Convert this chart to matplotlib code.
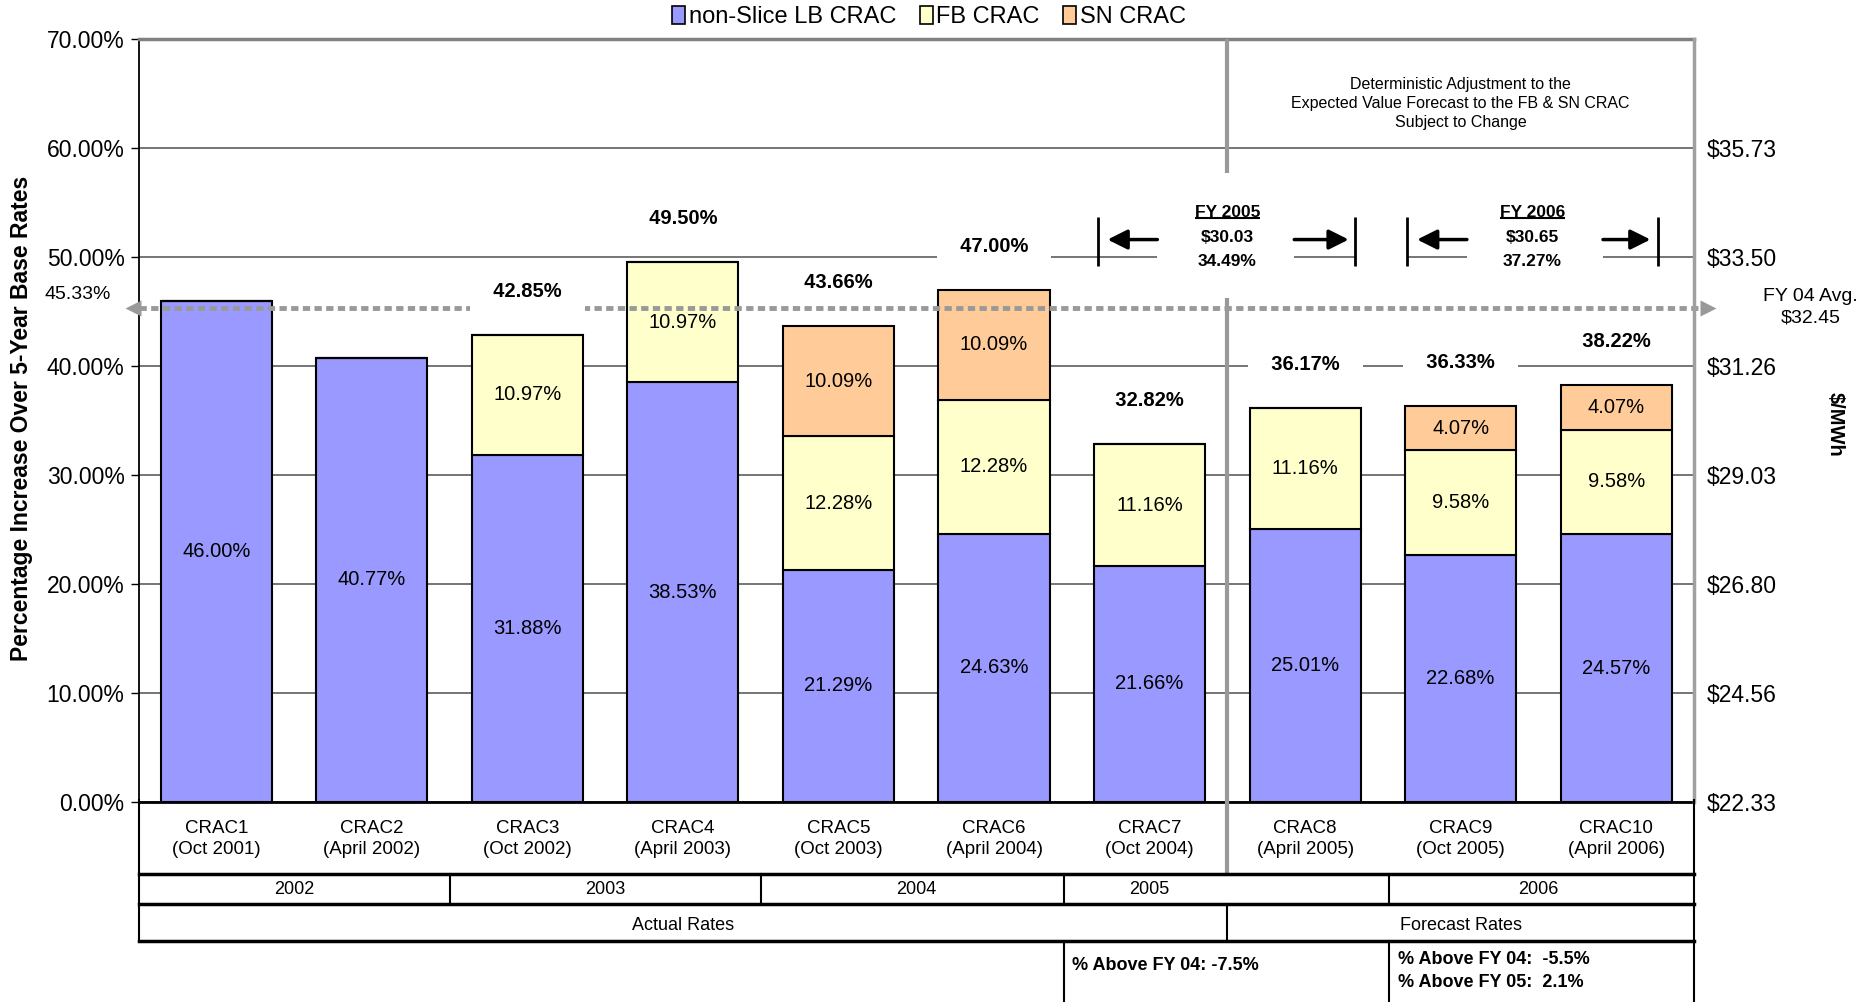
import matplotlib
matplotlib.use('Agg')
import matplotlib.pyplot as plt
from matplotlib.transforms import blended_transform_factory
from matplotlib.patches import Rectangle, Patch

plt.rcParams['font.family'] = ['Liberation Sans', 'DejaVu Sans']

# ---------------- data ----------------
categories = ['CRAC1\n(Oct 2001)', 'CRAC2\n(April 2002)', 'CRAC3\n(Oct 2002)', 'CRAC4\n(April 2003)',
              'CRAC5\n(Oct 2003)', 'CRAC6\n(April 2004)', 'CRAC7\n(Oct 2004)', 'CRAC8\n(April 2005)',
              'CRAC9\n(Oct 2005)', 'CRAC10\n(April 2006)']
non_slice = [46.00, 40.77, 31.88, 38.53, 21.29, 24.63, 21.66, 25.01, 22.68, 24.57]
fb_crac = [0, 0, 10.97, 10.97, 12.28, 12.28, 11.16, 11.16, 9.58, 9.58]
sn_crac = [0, 0, 0, 0, 10.09, 10.09, 0, 0, 4.07, 4.07]
series_names = ['non-Slice LB CRAC', 'FB CRAC', 'SN CRAC']
series_colors = ['#9999FF', '#FFFFCC', '#FFCC99']

left_ticks = [0, 10, 20, 30, 40, 50, 60, 70]
right_ticks = [0, 10, 20, 30, 40, 50, 60]
right_tick_labels = ['$22.33', '$24.56', '$26.80', '$29.03', '$31.26', '$33.50', '$35.73']
fy04_avg = 45.33
fy04_avg_label = 'FY 04 Avg.\n$32.45'
fy_blocks = [('FY 2005', '$30.03', '34.49%'), ('FY 2006', '$30.65', '37.27%')]
years = ['2002', '2003', '2004', '2005', '2006']
periods = ['Actual Rates', 'Forecast Rates']
note_text = 'Deterministic Adjustment to the\nExpected Value Forecast to the FB & SN CRAC\nSubject to Change'
above_2005 = '% Above FY 04: -7.5%'
above_2006 = '% Above FY 04:  -5.5%\n% Above FY 05:  2.1%'

# ---------------- figure ----------------
W, H = 1872, 1002
fig = plt.figure(figsize=(W / 100, H / 100), dpi=100)
ax = fig.add_axes([138.5 / W, 200 / H, (1694 - 138.5) / W, 763 / H])
ax.set_xlim(-0.5, 9.5)
ax.set_ylim(0, 70)

x = list(range(len(categories)))
bw = 0.714
bottoms = [0] * len(x)
for vals, col in zip([non_slice, fb_crac, sn_crac], series_colors):
    ax.bar(x, vals, bw, bottom=bottoms, color=col, edgecolor='black', linewidth=1.5, zorder=3)
    for i, v in enumerate(vals):
        if v > 0:
            ax.text(i, bottoms[i] + v / 2, f'{v:.2f}%', ha='center', va='center', fontsize=14.5, zorder=6)
    bottoms = [b + v for b, v in zip(bottoms, vals)]

# totals above stacked bars
for i in x:
    nseg = sum(1 for s in (non_slice, fb_crac, sn_crac) if s[i] > 0)
    if nseg > 1:
        ax.text(i, bottoms[i] + 4.0, f'  {bottoms[i]:.2f}%  ', ha='center', va='center',
                fontsize=14.5, fontweight='bold', zorder=7,
                bbox=dict(boxstyle='square,pad=0.6', fc='white', ec='none'))

# axes styling
ax.set_yticks(left_ticks)
ax.set_yticklabels([f'{t:.2f}%' for t in left_ticks], fontsize=16.5)
ax.tick_params(axis='y', direction='out', length=6, width=1, pad=4, colors='black')
ax.set_xticks(x)
ax.set_xticklabels(categories, fontsize=13.5, linespacing=1.3)
ax.tick_params(axis='x', length=0, pad=13)
ax.yaxis.grid(True, color='#505050', linewidth=1.1, zorder=0)
ax.set_axisbelow(True)
ax.spines['left'].set_color('black'); ax.spines['left'].set_linewidth(1.3)
ax.spines['bottom'].set_color('black'); ax.spines['bottom'].set_linewidth(2)
ax.spines['top'].set_color('#808080'); ax.spines['top'].set_linewidth(2.5)
ax.spines['right'].set_visible(False)

ax2 = ax.twinx()
ax2.set_ylim(0, 70)
ax2.set_yticks(right_ticks)
ax2.set_yticklabels(right_tick_labels, fontsize=16.5)
ax2.tick_params(axis='y', length=0, pad=9)
for s in ['left', 'top', 'bottom']:
    ax2.spines[s].set_visible(False)
ax2.spines['right'].set_color('#a0a0a0'); ax2.spines['right'].set_linewidth(2.5)

# vertical divider between actual and forecast
ax.plot([6.5, 6.5], [70, 57.7], color='#999999', lw=3, zorder=5, clip_on=False, solid_capstyle='butt')
ax.plot([6.5, 6.5], [46.2, -6.8], color='#999999', lw=3, zorder=5, clip_on=False, solid_capstyle='butt')

# FY04 average dotted line with arrowheads
ax.plot([-0.5, 9.55], [fy04_avg, fy04_avg], color='#999999', lw=3.5, dashes=(1.5, 0.9),
        dash_capstyle='butt', zorder=4, clip_on=False)
ax.plot([-0.535], [fy04_avg], marker='<', ms=12, color='#999999', mec='none', clip_on=False, zorder=4)
ax.plot([9.59], [fy04_avg], marker='>', ms=12, color='#999999', mec='none', clip_on=False, zorder=4)
ax.text(-0.89, 46.6, f'{fy04_avg:.2f}%', ha='center', va='center', fontsize=14, clip_on=False)
ax.text(10.25, 45.4, fy04_avg_label, ha='center', va='center', fontsize=14, linespacing=1.3, clip_on=False)

# note
ax.text(8.0, 64.1, note_text, ha='center', va='center', fontsize=11.5, linespacing=1.35, zorder=6)

# FY blocks
fy_geom = [dict(c=6.5, bars=(5.67, 7.32), lt=(6.05, 5.73), rt=(6.93, 7.28)),
           dict(c=8.46, bars=(7.655, 9.27), lt=(8.04, 7.72), rt=(8.915, 9.22))]
ax.add_patch(Rectangle((7.32, 49.4), 0.335, 1.2, fc='white', ec='none', zorder=2))
title_texts = []
for (t1, t2, t3), g in zip(fy_blocks, fy_geom):
    ax.add_patch(Rectangle((g['lt'][0], 48.4), g['rt'][0] - g['lt'][0], 7.0, fc='white', ec='none', zorder=2))
    tt = ax.text(g['c'], 54.1, t1, ha='center', va='center', fontsize=12.5, fontweight='bold', zorder=7)
    title_texts.append(tt)
    ax.text(g['c'], 51.8, t2, ha='center', va='center', fontsize=12.5, fontweight='bold', zorder=7)
    ax.text(g['c'], 49.6, t3, ha='center', va='center', fontsize=12.5, fontweight='bold', zorder=7)
    for bx in g['bars']:
        ax.plot([bx, bx], [49.2, 53.7], color='black', lw=2, zorder=7, solid_capstyle='butt')
    for tail, head in (g['lt'], g['rt']):
        ax.annotate('', xy=(head, 51.6), xytext=(tail, 51.6), zorder=7,
                    arrowprops=dict(arrowstyle='-|>,head_length=0.6,head_width=0.3', mutation_scale=20,
                                    color='black', lw=2.5, shrinkA=0, shrinkB=0))

# underline FY titles
fig.canvas.draw()
inv = ax.transData.inverted()
for tt in title_texts:
    bb = tt.get_window_extent()
    (x0, y0), (x1, _) = inv.transform([(bb.x0, bb.y0 + 2), (bb.x1, bb.y0)])
    ax.plot([x0, x1], [y0, y0], color='black', lw=1.5, zorder=7, solid_capstyle='butt')

# ---------------- table below the axis ----------------
tr = blended_transform_factory(ax.transData, fig.transFigure)
fy = lambda px: 1 - px / H

def hline(y, x0, x1, lw=2):
    fig.add_artist(plt.Line2D([x0, x1], [fy(y), fy(y)], transform=tr, color='black', lw=lw))

def vline(xv, y0, y1, lw=1.5):
    fig.add_artist(plt.Line2D([xv, xv], [fy(y0), fy(y1)], transform=tr, color='black', lw=lw))

hline(874, -0.5, 9.5, 2.5)
hline(904, -0.5, 9.5, 2.5)
hline(941, -0.5, 9.5, 2.5)
vline(-0.5, 800, 941)
vline(9.5, 800, 1002)
for xv in (1.5, 3.5, 5.45, 7.54):
    vline(xv, 874, 904)
vline(6.5, 904, 941)
for xv in (5.45, 7.54):
    vline(xv, 941, 1002)

for yr, xc in zip(years, (0.5, 2.5, 4.5, 6.0, 8.5)):
    fig.text(xc, fy(889), yr, transform=tr, ha='center', va='center', fontsize=13)
for p, xc in zip(periods, (3.0, 8.0)):
    fig.text(xc, fy(925), p, transform=tr, ha='center', va='center', fontsize=13)
fig.text(5.5, fy(966), above_2005, transform=tr, ha='left', va='center', fontsize=13, fontweight='bold')
fig.text(7.6, fy(971), above_2006, transform=tr, ha='left', va='center', fontsize=13,
         fontweight='bold', linespacing=1.45)

# ---------------- legend & axis titles ----------------
handles = [Patch(facecolor=c, edgecolor='black', linewidth=1.2) for c in series_colors]
fig.legend(handles, series_names, loc='center', bbox_to_anchor=(929 / W, fy(17)), ncol=3, frameon=False,
           fontsize=17, handlelength=0.55, handleheight=0.8, handletextpad=0.15, columnspacing=1.0,
           borderpad=0)
fig.text(21.5 / W, fy(418), 'Percentage Increase Over 5-Year Base Rates', rotation=90, ha='center',
         va='center', fontsize=16.5, fontweight='bold')
fig.text(1835 / W, fy(424), '$/MWh', rotation=270, ha='center', va='center', fontsize=14.5,
         fontweight='bold')

fig.savefig('out.png', dpi=100)
